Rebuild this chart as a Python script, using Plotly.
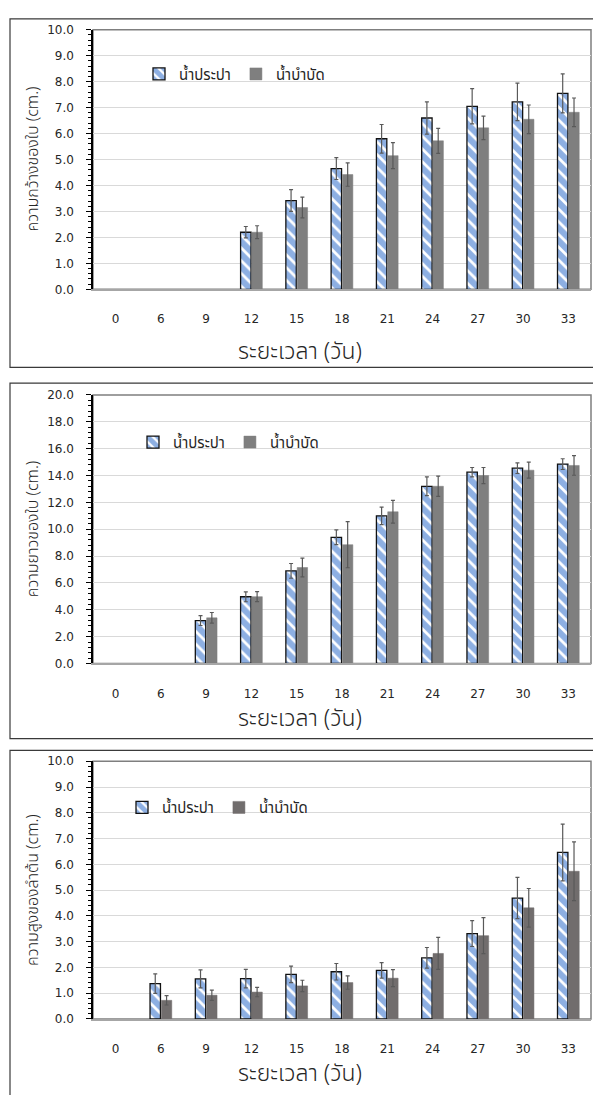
import plotly.graph_objects as go

W, H = 593, 1095

days = ["0", "6", "9", "12", "15", "18", "21", "24", "27", "30", "33"]

# Panel 1: leaf width (cm.)
width_tap = [None, None, None, 2.2, 3.42, 4.65, 5.8, 6.6, 7.05, 7.22, 7.55]
width_tap_err = [None, None, None, 0.22, 0.42, 0.42, 0.55, 0.62, 0.68, 0.72, 0.75]
width_treated = [None, None, None, 2.2, 3.15, 4.42, 5.15, 5.72, 6.22, 6.55, 6.82]
width_treated_err = [None, None, None, 0.25, 0.4, 0.45, 0.5, 0.48, 0.45, 0.55, 0.55]

# Panel 2: leaf length (cm.)
length_tap = [None, None, 3.2, 4.97, 6.9, 9.4, 11.0, 13.2, 14.25, 14.55, 14.85]
length_tap_err = [None, None, 0.37, 0.37, 0.55, 0.55, 0.65, 0.7, 0.35, 0.4, 0.4]
length_treated = [None, None, 3.4, 4.98, 7.15, 8.85, 11.3, 13.2, 14.0, 14.4, 14.75]
length_treated_err = [None, None, 0.4, 0.37, 0.7, 1.72, 0.85, 0.75, 0.6, 0.6, 0.73]

# Panel 3: stem height (cm.)
height_tap = [None, 1.37, 1.55, 1.56, 1.73, 1.83, 1.88, 2.37, 3.31, 4.69, 6.46]
height_tap_err = [None, 0.38, 0.35, 0.36, 0.32, 0.32, 0.3, 0.4, 0.5, 0.8, 1.1]
height_treated = [None, 0.72, 0.92, 1.04, 1.28, 1.41, 1.58, 2.54, 3.23, 4.31, 5.73]
height_treated_err = [None, 0.18, 0.2, 0.18, 0.22, 0.26, 0.33, 0.62, 0.7, 0.75, 1.14]

series_names = ["น้ำประปา", "น้ำบำบัด"]
y_titles = ["ความกว้างของใบ (cm.)", "ความยาวของใบ (cm.)", "ความสูงของลำต้น (cm.)"]
x_title = "ระยะเวลา (วัน)"
y_max = [10, 20, 10]
y_dtick = [1, 2, 1]

panels = [
    (width_tap, width_tap_err, width_treated, width_treated_err),
    (length_tap, length_tap_err, length_treated, length_treated_err),
    (height_tap, height_tap_err, height_treated, height_treated_err),
]

# pixel layout
plot_px = [(23, 286), (393, 665), (764, 1025)]     # top, bottom of plot areas
box_px = [(12, 365), (381, 741), (753, 1110)]     # outer chart boxes
legend_px = [(139, 68), (133, 441), (122, 811)]
xtitle_y = [349, 721, 1081]
plot_x0, plot_x1 = 93, 591

BLUE = "#1c5fc6"
GRAY = ["#7f7f7f", "#7f7f7f", "#716d6d"]
TXT = "#262626"
FONT_NUM = "DejaVu Sans"
FONT_TH = "Noto Sans Thai, sans-serif"

def px_x(v):
    return v / W

def px_y(v):
    return 1 - v / H

fig = go.Figure()
shapes = []
annotations = []
legend_keys = ["legend", "legend2", "legend3"]

for i, (a, ae, b, be) in enumerate(panels):
    sfx = "" if i == 0 else str(i + 1)
    xa, ya = "x" + sfx, "y" + sfx
    fig.add_trace(go.Bar(
        x=days, y=a, name=series_names[0], xaxis=xa, yaxis=ya,
        legend=legend_keys[i],
        marker=dict(color="white", line=dict(color="#111111", width=1.3),
                    pattern=dict(shape="\\", fgcolor=BLUE, bgcolor="white",
                                 size=9, solidity=0.7)),
        error_y=dict(type="data", array=ae, visible=True, color="#595959",
                     thickness=1.2, width=2),
    ))
    fig.add_trace(go.Bar(
        x=days, y=b, name=series_names[1], xaxis=xa, yaxis=ya,
        legend=legend_keys[i],
        marker=dict(color=GRAY[i], line=dict(color=GRAY[i], width=0.5)),
        error_y=dict(type="data", array=be, visible=True, color="#595959",
                     thickness=1.2, width=2),
    ))
    top, bot = plot_px[i]
    fig.layout["xaxis" + sfx] = dict(
        domain=[px_x(plot_x0), px_x(plot_x1)], anchor=ya, type="category",
        showline=True, linecolor="#a6a6a6", linewidth=1.5,
        showgrid=False, ticks="", ticklabelstandoff=18,
        tickfont=dict(family=FONT_NUM, size=12, color=TXT),
    )
    fig.layout["yaxis" + sfx] = dict(
        domain=[px_y(bot), px_y(top)], anchor=xa,
        range=[0, y_max[i]], dtick=y_dtick[i], tickformat=".1f",
        showline=True, linecolor="#000000", linewidth=1.5,
        showgrid=True, gridcolor="#d9d9d9", gridwidth=1.3,
        ticks="outside", ticklen=5, tickcolor="#000000", tickwidth=1,
        ticklabelstandoff=10,
        minor=dict(dtick=y_dtick[i] / 5, ticks="outside", ticklen=3,
                   tickcolor="#000000", showgrid=False),
        tickfont=dict(family=FONT_NUM, size=12, color=TXT),
        zeroline=False,
    )
    # plot-area border (top and right)
    shapes.append(dict(type="rect", xref=xa + " domain", yref=ya + " domain",
                       x0=0, x1=1, y0=0, y1=1,
                       line=dict(color="#7f7f7f", width=1.5), layer="below"))
    # outer chart box
    b0, b1 = box_px[i]
    shapes.append(dict(type="rect", xref="paper", yref="paper",
                       x0=px_x(10), x1=px_x(600), y0=px_y(b1), y1=px_y(b0),
                       line=dict(color="#3a3a3a", width=1.2)))
    # axis titles
    annotations.append(dict(text=x_title, xref="paper", yref="paper",
                            x=px_x(300), y=px_y(xtitle_y[i]), showarrow=False,
                            xanchor="center", yanchor="middle",
                            font=dict(family=FONT_TH, size=23, color=TXT,
                                      weight=300)))
    annotations.append(dict(text=y_titles[i], xref="paper", yref="paper",
                            x=px_x(33), y=px_y((top + bot) / 2), showarrow=False,
                            textangle=-90, xanchor="center", yanchor="middle",
                            font=dict(family=FONT_TH, size=16, color=TXT,
                                      weight=300)))
    lx, ly = legend_px[i]
    fig.layout[legend_keys[i]] = dict(
        x=px_x(lx), y=px_y(ly), xanchor="left", yanchor="middle",
        orientation="h", bgcolor="rgba(0,0,0,0)", itemwidth=30,
        font=dict(family=FONT_TH, size=15, color=TXT), tracegroupgap=0,
    )

fig.update_layout(
    width=W, height=H, margin=dict(l=0, r=0, t=0, b=0),
    paper_bgcolor="white", plot_bgcolor="white",
    barmode="group", bargap=0.5, bargroupgap=0.08,
    showlegend=True, shapes=shapes, annotations=annotations,
)

fig.write_html(
    "out.html",
    config={"displayModeBar": False},
    post_script="document.body.style.margin='0px';document.body.style.overflow='hidden';",
)
